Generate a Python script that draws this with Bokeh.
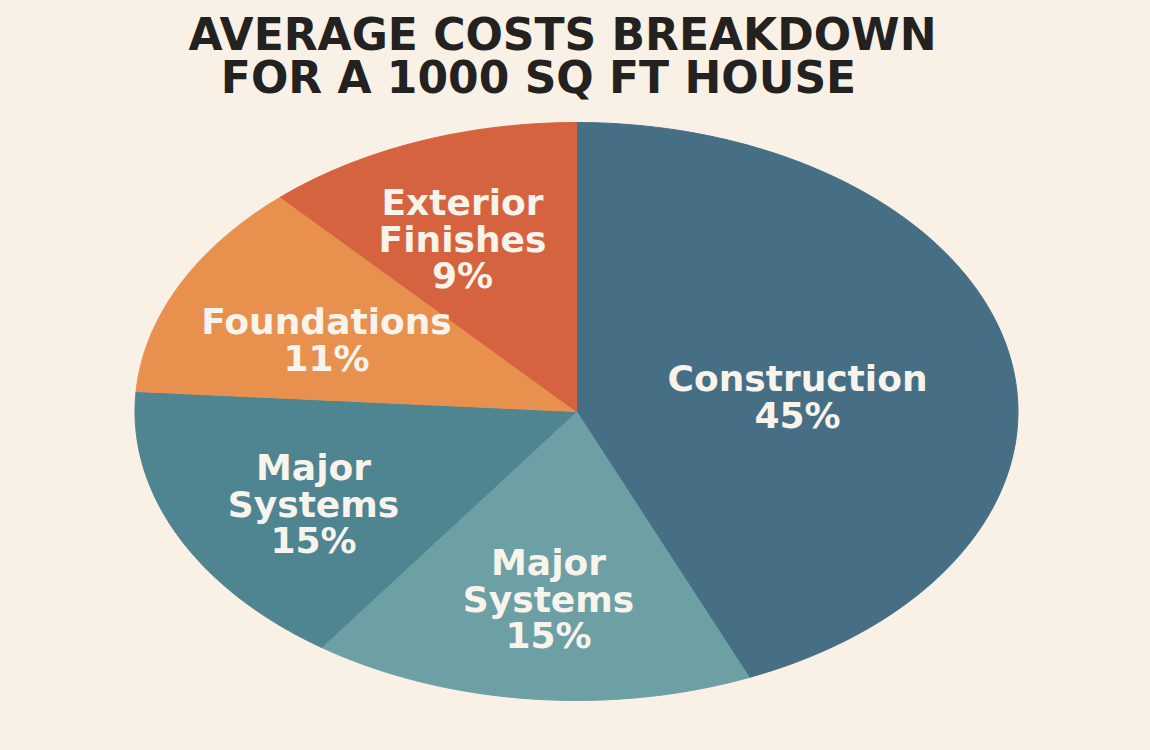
import numpy as np
from bokeh.plotting import figure
from bokeh.models import Range1d, ColumnDataSource
from bokeh.embed import file_html
from bokeh.resources import INLINE
from bokeh.core.properties import value

# ---- data ----
title_lines = ["AVERAGE COSTS BREAKDOWN", "FOR A 1000 SQ FT HOUSE"]
categories = ["Construction", "Major Systems", "Major Systems", "Foundations", "Exterior Finishes"]
percents = [45, 15, 15, 11, 9]                      # values printed on the labels
slice_shares = [43.6, 16.2, 16.3, 12.2, 11.7]       # shares of the pie as drawn in the picture
colors = ["#466f86", "#6ca0a4", "#4f8491", "#e8914f", "#d5633f"]

# ---- layout (pixels inside the figure, y measured from bottom) ----
W, H = 1150, 750
BG = "#faf1e6"
cx, cy = 576.0, 339.0      # pie centre
rx, ry = 441.5, 289.0      # ellipse radii
start_deg = 90.0
# label anchor (centre of first line) per slice and line spacing
label_pos = [(797, 372), (548, 188), (313, 283), (326, 429), (462, 548)]
line_gap = 36.5

p = figure(width=W, height=H, output_backend="svg", toolbar_location=None,
           x_range=Range1d(0, W), y_range=Range1d(0, H), min_border=0)
p.axis.visible = False
p.grid.visible = False
p.outline_line_color = None
p.background_fill_color = BG
p.border_fill_color = BG

total = float(sum(slice_shares))
fracs = np.array(slice_shares) / total
ends = start_deg - 360.0 * np.cumsum(fracs)
starts = np.concatenate([[start_deg], ends[:-1]])

xs, ys = [], []
for a0, a1 in zip(starts, ends):
    t = np.radians(np.linspace(a0, a1, 120))
    xs.append(np.concatenate([[cx], cx + rx * np.cos(t), [cx]]))
    ys.append(np.concatenate([[cy], cy + ry * np.sin(t), [cy]]))

src = ColumnDataSource(dict(xs=xs, ys=ys, color=colors, cat=categories))
p.patches("xs", "ys", source=src, fill_color="color", line_color="color", line_width=1)

# labels
lx, ly, lt = [], [], []
for (ax, ay), cat, pc in zip(label_pos, categories, percents):
    lines = cat.split(" ") + [f"{pc}%"]
    for i, s in enumerate(lines):
        lx.append(ax)
        ly.append(ay - i * line_gap)
        lt.append(s)
p.text(x=lx, y=ly, text=lt, text_align="center", text_baseline="middle",
       text_color="#f8f4ec", text_font=value("DejaVu Sans"), text_font_style="bold",
       text_font_size="36px")

# title
p.text(x=[562, 538], y=[716, 673], text=title_lines, text_align="center",
       text_baseline="alphabetic", text_color="#232221",
       text_font=value("DejaVu Sans"), text_font_style="bold", text_font_size="44px")

html = file_html(p, INLINE)
html = html.replace("</head>",
                    f"<style>html,body{{margin:0;padding:0;background:{BG};overflow:hidden;}}</style></head>", 1)
open("out.html", "w").write(html)
